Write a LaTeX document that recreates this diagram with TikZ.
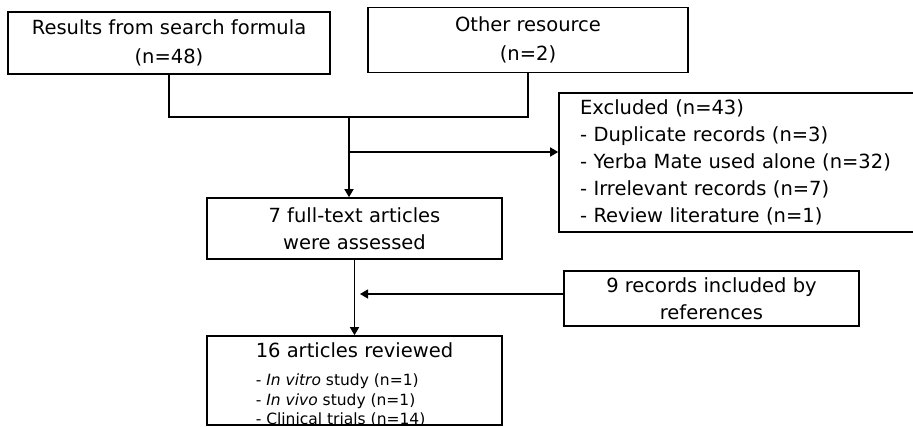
\documentclass[tikz,border=0pt]{standalone}
\usepackage{fontspec}
\setmainfont{DejaVu Sans}
\usetikzlibrary{arrows.meta}

\begin{document}
\begin{tikzpicture}[x=1pt, y=-1pt,
	box/.style={draw, line width=1.6pt, inner sep=0pt, align=center, font=\fontsize{19.5}{27}\selectfont},
	link/.style={line width=1.4pt},
	arr/.style={line width=1.4pt, -{Triangle[length=8pt, width=9pt]}}]
\useasboundingbox (0, 0) rectangle (913, 427);

\node[box, minimum width=322pt, minimum height=62pt, font=\fontsize{19.5}{28.5}\selectfont] (search) at (169, 43) {Results from search formula\\(n=48)};
\node[box, minimum width=320pt, minimum height=65pt, font=\fontsize{19.5}{29}\selectfont] (other) at (528, 40) {Other resource\\(n=2)};
\node[box, align=left, text width=324pt, inner xsep=21pt, minimum height=139pt] (excluded) at (742, 162.5)
	{Excluded (n=43)\\- Duplicate records (n=3)\\- Yerba Mate used alone (n=32)\\- Irrelevant records (n=7)\\- Review literature (n=1)};
\node[box, minimum width=295pt, minimum height=61pt, font=\fontsize{19.5}{26.5}\selectfont] (full) at (354.5, 228.5) {7 full-text articles\\were assessed};
\node[box, minimum width=295pt, minimum height=55pt] (refs) at (711.5, 298.5) {9 records included by\\references};
\node[box, minimum width=295pt, text height=22pt, text depth=67pt, font=\fontsize{15.5}{19.5}\selectfont] (reviewed) at (354.5, 380.5)
	{\begin{tabular}[t]{@{}l@{}}
	{\fontsize{19.5}{27}\selectfont 16 articles reviewed}\\[8.5pt]
	- \textit{In vitro} study (n=1)\\
	- \textit{In vivo} study (n=1)\\
	- Clinical trials (n=14)
	\end{tabular}};

\coordinate (join) at (349, 117);
\coordinate (excl) at (349, 152);
\coordinate (merge) at (360, 294);

\draw[link] (search.south) |- (join) -| (other.south);
\draw[arr] (join) -- (join |- full.north);
\draw[arr] (excl) -- (excl -| excluded.west);
\draw[arr] (full.south) -- (reviewed.north);
\draw[arr] (refs.west |- merge) -- (merge);
\end{tikzpicture}
\end{document}
